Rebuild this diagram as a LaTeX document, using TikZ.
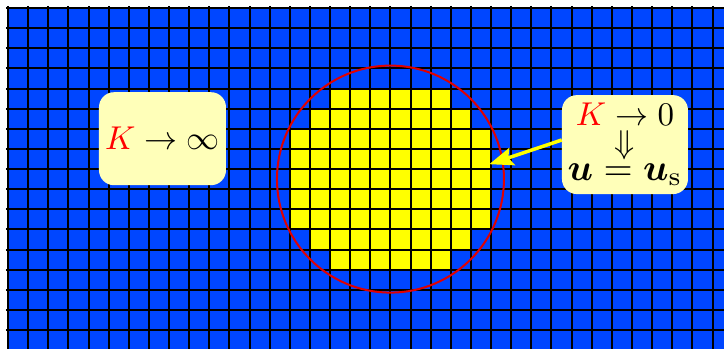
\documentclass[tikz,border=0pt]{standalone}
\usepackage{amsmath}
\usetikzlibrary{arrows.meta}
\definecolor{cellblue}{RGB}{0,70,255}
\definecolor{cellyellow}{RGB}{255,255,0}
\definecolor{boxfill}{RGB}{255,255,185}
\definecolor{circred}{RGB}{225,0,0}
\tikzset{
  gridline/.style={line width=2pt, black},
  infobox/.style={fill=boxfill, rounded corners=15pt, align=center,
    font=\fontsize{10}{27.3}\selectfont, inner sep=0pt},
  pointer/.style={cellyellow, line width=3.5pt,
    -{Stealth[length=24pt,width=18pt,inset=4pt]}},
}
\begin{document}
\begin{tikzpicture}[x=20.13pt, y=-20.13pt]
  \useasboundingbox (-0.3974,-0.3974) rectangle (35.57,16.94);
  \clip (-0.3974,-0.3974) rectangle (35.57,16.94);
  % background cells
  \fill[cellblue] (0,0) rectangle (36,17);
  % yellow disc of cells
  \fill[cellyellow] (16,4) rectangle (22,5);
  \fill[cellyellow] (15,5) rectangle (23,6);
  \fill[cellyellow] (14,6) rectangle (24,11);
  \fill[cellyellow] (15,11) rectangle (23,12);
  \fill[cellyellow] (16,12) rectangle (22,13);
  % grid lines
  \foreach \i in {0,...,36} {\draw[gridline] (\i,-0.1) -- (\i,17.5);}
  \foreach \j in {0,...,17} {\draw[gridline] (-0.1,\j) -- (36.5,\j);}
  % red circle
  \draw[circred, line width=2pt] (19,8.5) circle[radius=113.5pt];
  % boxes
  \node[infobox, minimum width=127pt, minimum height=93pt] (lbox) at (7.675,6.493)
    {\scalebox{3.3}{$\color{red}K\color{black}\to\infty$}};
  \node[infobox, minimum width=126pt, minimum height=99pt] (rbox) at (30.65,6.786)
    {\scalebox{3.3}{$\color{red}K\color{black}\to0$}\\
     \scalebox{3.3}{$\Downarrow$}\\
     \scalebox{3.75}{$\boldsymbol{u}=\boldsymbol{u}_{\mathrm{s}}$}};
  \coordinate (tip) at (23.91,7.76);
  \draw[pointer] ([yshift=4.6pt]rbox.west) -- (tip);
\end{tikzpicture}
\end{document}
